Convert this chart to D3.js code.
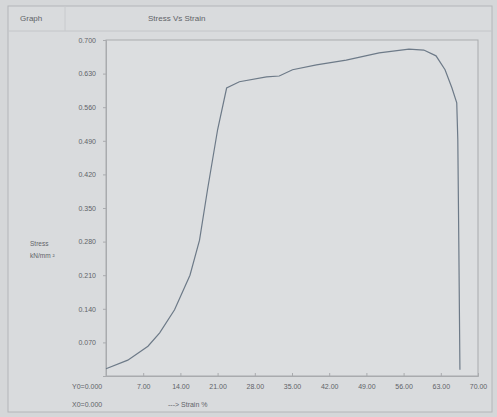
<!DOCTYPE html>
<html>
<head>
<meta charset="utf-8">
<script src="https://cdn.jsdelivr.net/npm/d3@7"></script>
<style>
  body { margin: 0; background: #d5d7d9; }
  svg { display: block; font-family: "Liberation Sans", Arial, sans-serif; }
</style>
</head>
<body>
<script>
// strain (%) vs stress (kN/mm^2)
var strain = [0, 4.1, 7.9, 10.1, 12.9, 15.8, 17.6, 19.1, 21.0, 22.7, 25.1, 30.2, 32.6, 35.1, 39.6, 45.2, 51.4, 57.0, 59.8, 62.1, 63.8, 65.1, 66.0, 66.2, 66.4, 66.6];
var stress = [0.015, 0.033, 0.062, 0.090, 0.138, 0.210, 0.283, 0.388, 0.513, 0.600, 0.613, 0.623, 0.625, 0.638, 0.648, 0.658, 0.673, 0.681, 0.679, 0.667, 0.638, 0.600, 0.569, 0.492, 0.263, 0.013];
var yTicks = [0.070, 0.140, 0.210, 0.280, 0.350, 0.420, 0.490, 0.560, 0.630, 0.700];
var xTicks = [7, 14, 21, 28, 35, 42, 49, 56, 63, 70];

var W = 497, H = 417;
var svg = d3.select('body').append('svg').attr('width', W).attr('height', H);

// plot box edges (note: "top" is taken by window.top)
var pL = 106, pR = 478, pT = 40, pB = 376;
var x = d3.scaleLinear().domain([0, 70]).range([pL, pR]);
var y = d3.scaleLinear().domain([0, 0.7]).range([pB, pT]);

var ink = '#5f6368';

// outer frame + header strip
svg.append('rect').attr('x', 8).attr('y', 6).attr('width', 484).attr('height', 406)
	.attr('fill', '#d9dbdd').attr('stroke', '#b4b6b9');
svg.append('line').attr('x1', 8).attr('x2', 492).attr('y1', 31).attr('y2', 31).attr('stroke', '#c4c6c9');
svg.append('line').attr('x1', 65).attr('x2', 65).attr('y1', 6).attr('y2', 31).attr('stroke', '#c8cacd');

svg.append('text').attr('x', 20).attr('y', 21).attr('font-size', 8).attr('fill', ink).text('Graph');
svg.append('text').attr('x', 148).attr('y', 21).attr('font-size', 8).attr('fill', ink).text('Stress Vs Strain');

// plot box
svg.append('rect').attr('x', pL).attr('y', pT).attr('width', pR - pL).attr('height', pB - pT)
	.attr('fill', '#dcdee0').attr('stroke', '#a9abae');

// axes
var yAxis = d3.axisLeft(y).tickValues(yTicks).tickFormat(d3.format('.3f')).tickSize(3);
var gy = svg.append('g').attr('transform', 'translate(' + pL + ',0)').call(yAxis);
gy.select('.domain').attr('stroke', '#a9abae');
gy.selectAll('.tick line').attr('stroke', '#a9abae');
gy.selectAll('.tick text').attr('x', -10).attr('fill', ink).attr('font-size', 7);

var xAxis = d3.axisBottom(x).tickValues(xTicks).tickFormat(d3.format('.2f')).tickSize(-3);
var gx = svg.append('g').attr('transform', 'translate(0,' + pB + ')').call(xAxis);
gx.select('.domain').attr('stroke', '#a9abae');
gx.selectAll('.tick line').attr('stroke', '#a9abae');
gx.selectAll('.tick text').attr('y', 8).attr('fill', ink).attr('font-size', 7);

// axis captions
svg.append('text').attr('x', 30).attr('y', 246).attr('font-size', 6.5).attr('fill', ink).text('Stress');
svg.append('text').attr('x', 30).attr('y', 258).attr('font-size', 6.5).attr('fill', ink).text('kN/mm \u00b2');
svg.append('text').attr('x', 72).attr('y', 389).attr('font-size', 7).attr('fill', ink).text('Y0=0.000');
svg.append('text').attr('x', 72).attr('y', 407).attr('font-size', 7).attr('fill', ink).text('X0=0.000');
svg.append('text').attr('x', 168).attr('y', 407).attr('font-size', 7).attr('fill', ink).text('---> Strain  %');

// curve
var pts = strain.map(function(d, i) { return [d, stress[i]]; });
var line = d3.line().x(function(d) { return x(d[0]); }).y(function(d) { return y(d[1]); });
svg.append('path').datum(pts).attr('d', line)
	.attr('fill', 'none').attr('stroke', '#6d7a88').attr('stroke-width', 1.2);
</script>
</body>
</html>
